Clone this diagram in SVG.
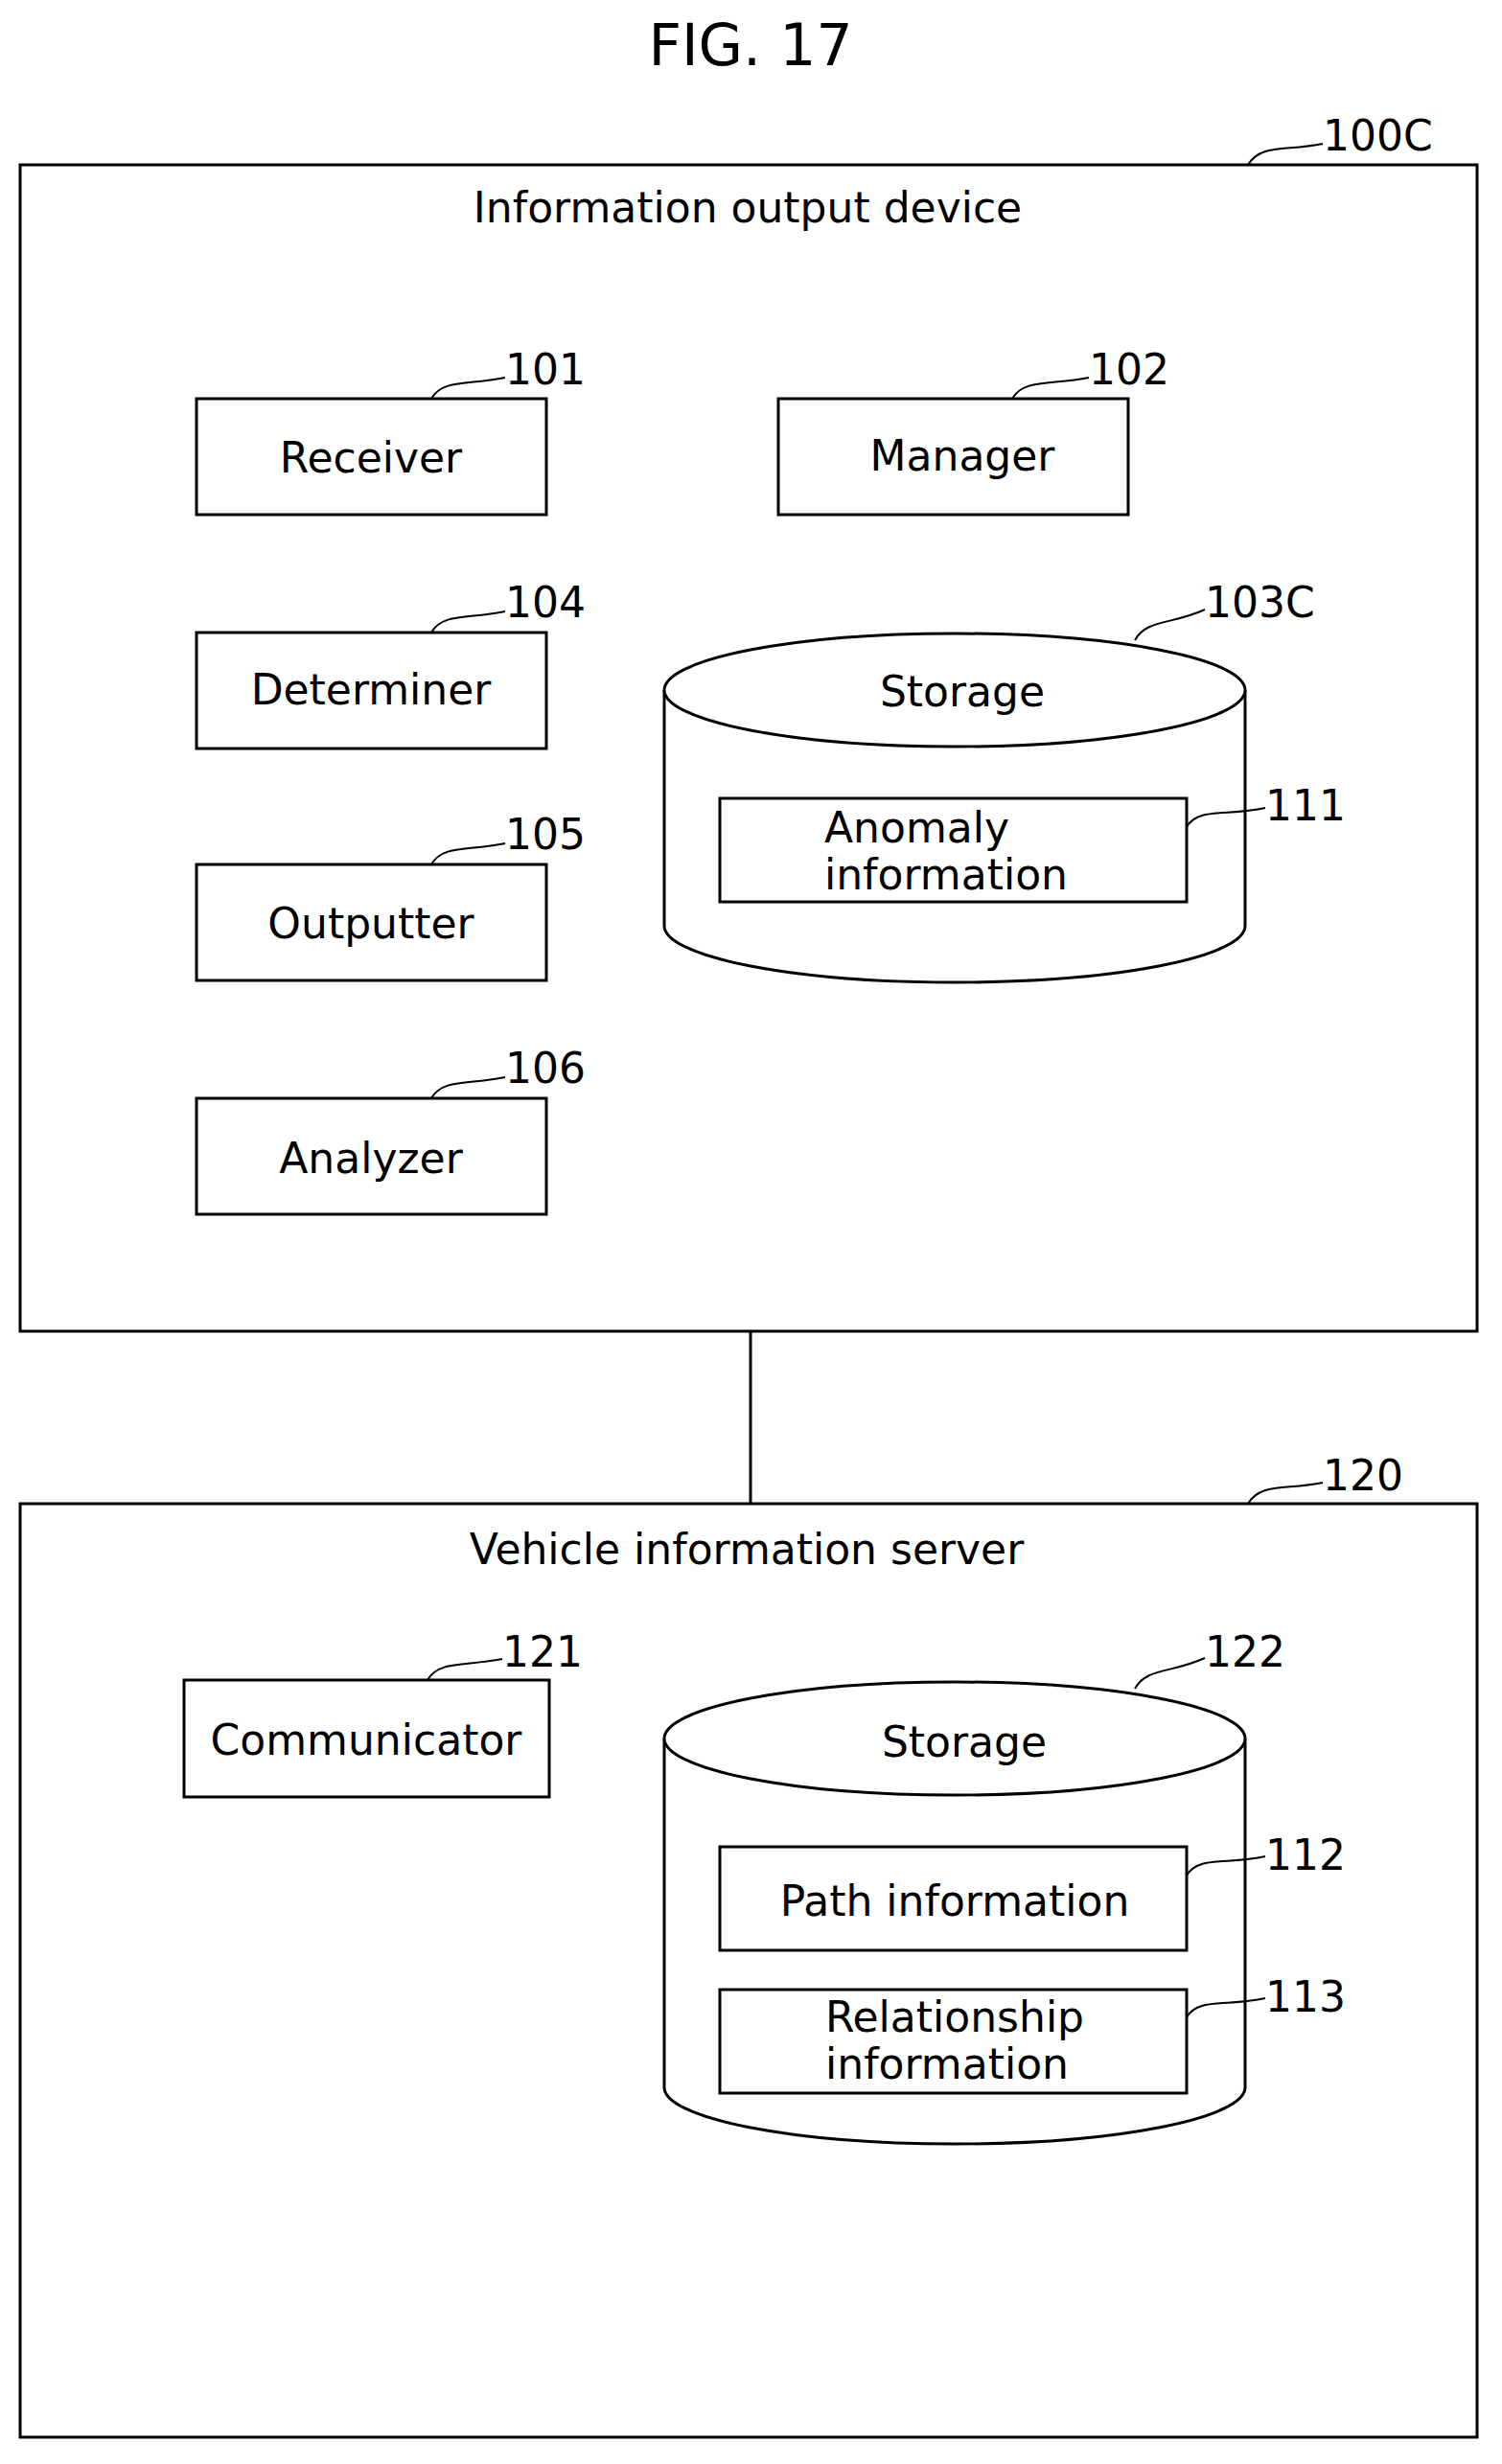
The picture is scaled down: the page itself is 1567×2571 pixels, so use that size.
<svg xmlns="http://www.w3.org/2000/svg" width="1567" height="2571" viewBox="0 0 1567 2571">
<style>
.b{fill:none;stroke:#000;stroke-width:3}
.n{fill:#fff;stroke:#000;stroke-width:3}
.l{fill:none;stroke:#000;stroke-width:2}
text{font-family:"DejaVu Sans",sans-serif;font-size:44px;fill:#000}
.c{text-anchor:middle}
</style>
<rect width="1567" height="2571" fill="#fff"/>
<text x="783" y="68" class="c" style="font-size:60px">FIG. 17</text>
<g id="dev">
<rect class="b" x="21" y="172" width="1520" height="1217"/>
<text x="780" y="232" class="c">Information output device</text>
<path class="l" d="M1302,172 C1315,150 1340,158 1380,150"/><text x="1380" y="157">100C</text>
</g>
<g id="receiver"><rect class="n" x="205" y="416" width="365" height="121"/><text x="387" y="493" class="c">Receiver</text>
<path class="l" d="M450,416 C462,395 490,402 527,394"/><text x="527" y="401">101</text></g>
<g id="manager"><rect class="n" x="812" y="416" width="365" height="121"/><text x="1004" y="491" class="c">Manager</text>
<path class="l" d="M1056,416 C1068,395 1096,402 1136,394"/><text x="1136" y="401">102</text></g>
<g id="determiner"><rect class="n" x="205" y="660" width="365" height="121"/><text x="387" y="735" class="c">Determiner</text>
<path class="l" d="M450,660 C462,639 490,646 527,638"/><text x="527" y="644">104</text></g>
<g id="outputter"><rect class="n" x="205" y="902" width="365" height="121"/><text x="387" y="979" class="c">Outputter</text>
<path class="l" d="M450,902 C462,881 490,888 527,880"/><text x="527" y="886">105</text></g>
<g id="analyzer"><rect class="n" x="205" y="1146" width="365" height="121"/><text x="387" y="1224" class="c">Analyzer</text>
<path class="l" d="M450,1146 C462,1125 490,1132 527,1124"/><text x="527" y="1130">106</text></g>
<g id="storage1">
<path class="n" d="M693,720 L693,966 A303,59 0 0 0 1299,966 L1299,720"/>
<ellipse class="n" cx="996" cy="720" rx="303" ry="59"/>
<text x="1004" y="737" class="c">Storage</text>
<path class="l" d="M1184,668 C1196,646 1222,652 1257,636"/><text x="1257" y="644">103C</text>
</g>
<g id="anomaly"><rect class="n" x="751" y="833" width="487" height="108"/>
<text x="860" y="879">Anomaly</text><text x="860" y="928">information</text>
<path class="l" d="M1238,863 C1250,842 1280,852 1320,843"/><text x="1320" y="856">111</text></g>
<g id="connectors"><line class="b" x1="783" y1="1389" x2="783" y2="1569"/></g>
<g id="server">
<rect class="b" x="21" y="1569" width="1520" height="974"/>
<text x="779" y="1632" class="c">Vehicle information server</text>
<path class="l" d="M1302,1569 C1315,1547 1340,1555 1380,1547"/><text x="1380" y="1555">120</text>
</g>
<g id="communicator"><rect class="n" x="192" y="1753" width="381" height="122"/><text x="382" y="1831" class="c">Communicator</text>
<path class="l" d="M446,1753 C458,1732 486,1739 524,1731"/><text x="524" y="1739">121</text></g>
<g id="storage2">
<path class="n" d="M693,1814 L693,2178 A303,59 0 0 0 1299,2178 L1299,1814"/>
<ellipse class="n" cx="996" cy="1814" rx="303" ry="59"/>
<text x="1006" y="1833" class="c">Storage</text>
<path class="l" d="M1184,1762 C1196,1740 1222,1746 1257,1730"/><text x="1257" y="1739">122</text>
</g>
<g id="path"><rect class="n" x="751" y="1927" width="487" height="108"/><text x="996" y="1999" class="c">Path information</text>
<path class="l" d="M1238,1957 C1250,1936 1280,1946 1320,1937"/><text x="1320" y="1951">112</text></g>
<g id="rel"><rect class="n" x="751" y="2076" width="487" height="108"/><text x="996" y="2120" class="c">Relationship</text><text x="988" y="2169" class="c">information</text>
<path class="l" d="M1238,2105 C1250,2084 1280,2094 1320,2085"/><text x="1320" y="2099">113</text></g>
</svg>
